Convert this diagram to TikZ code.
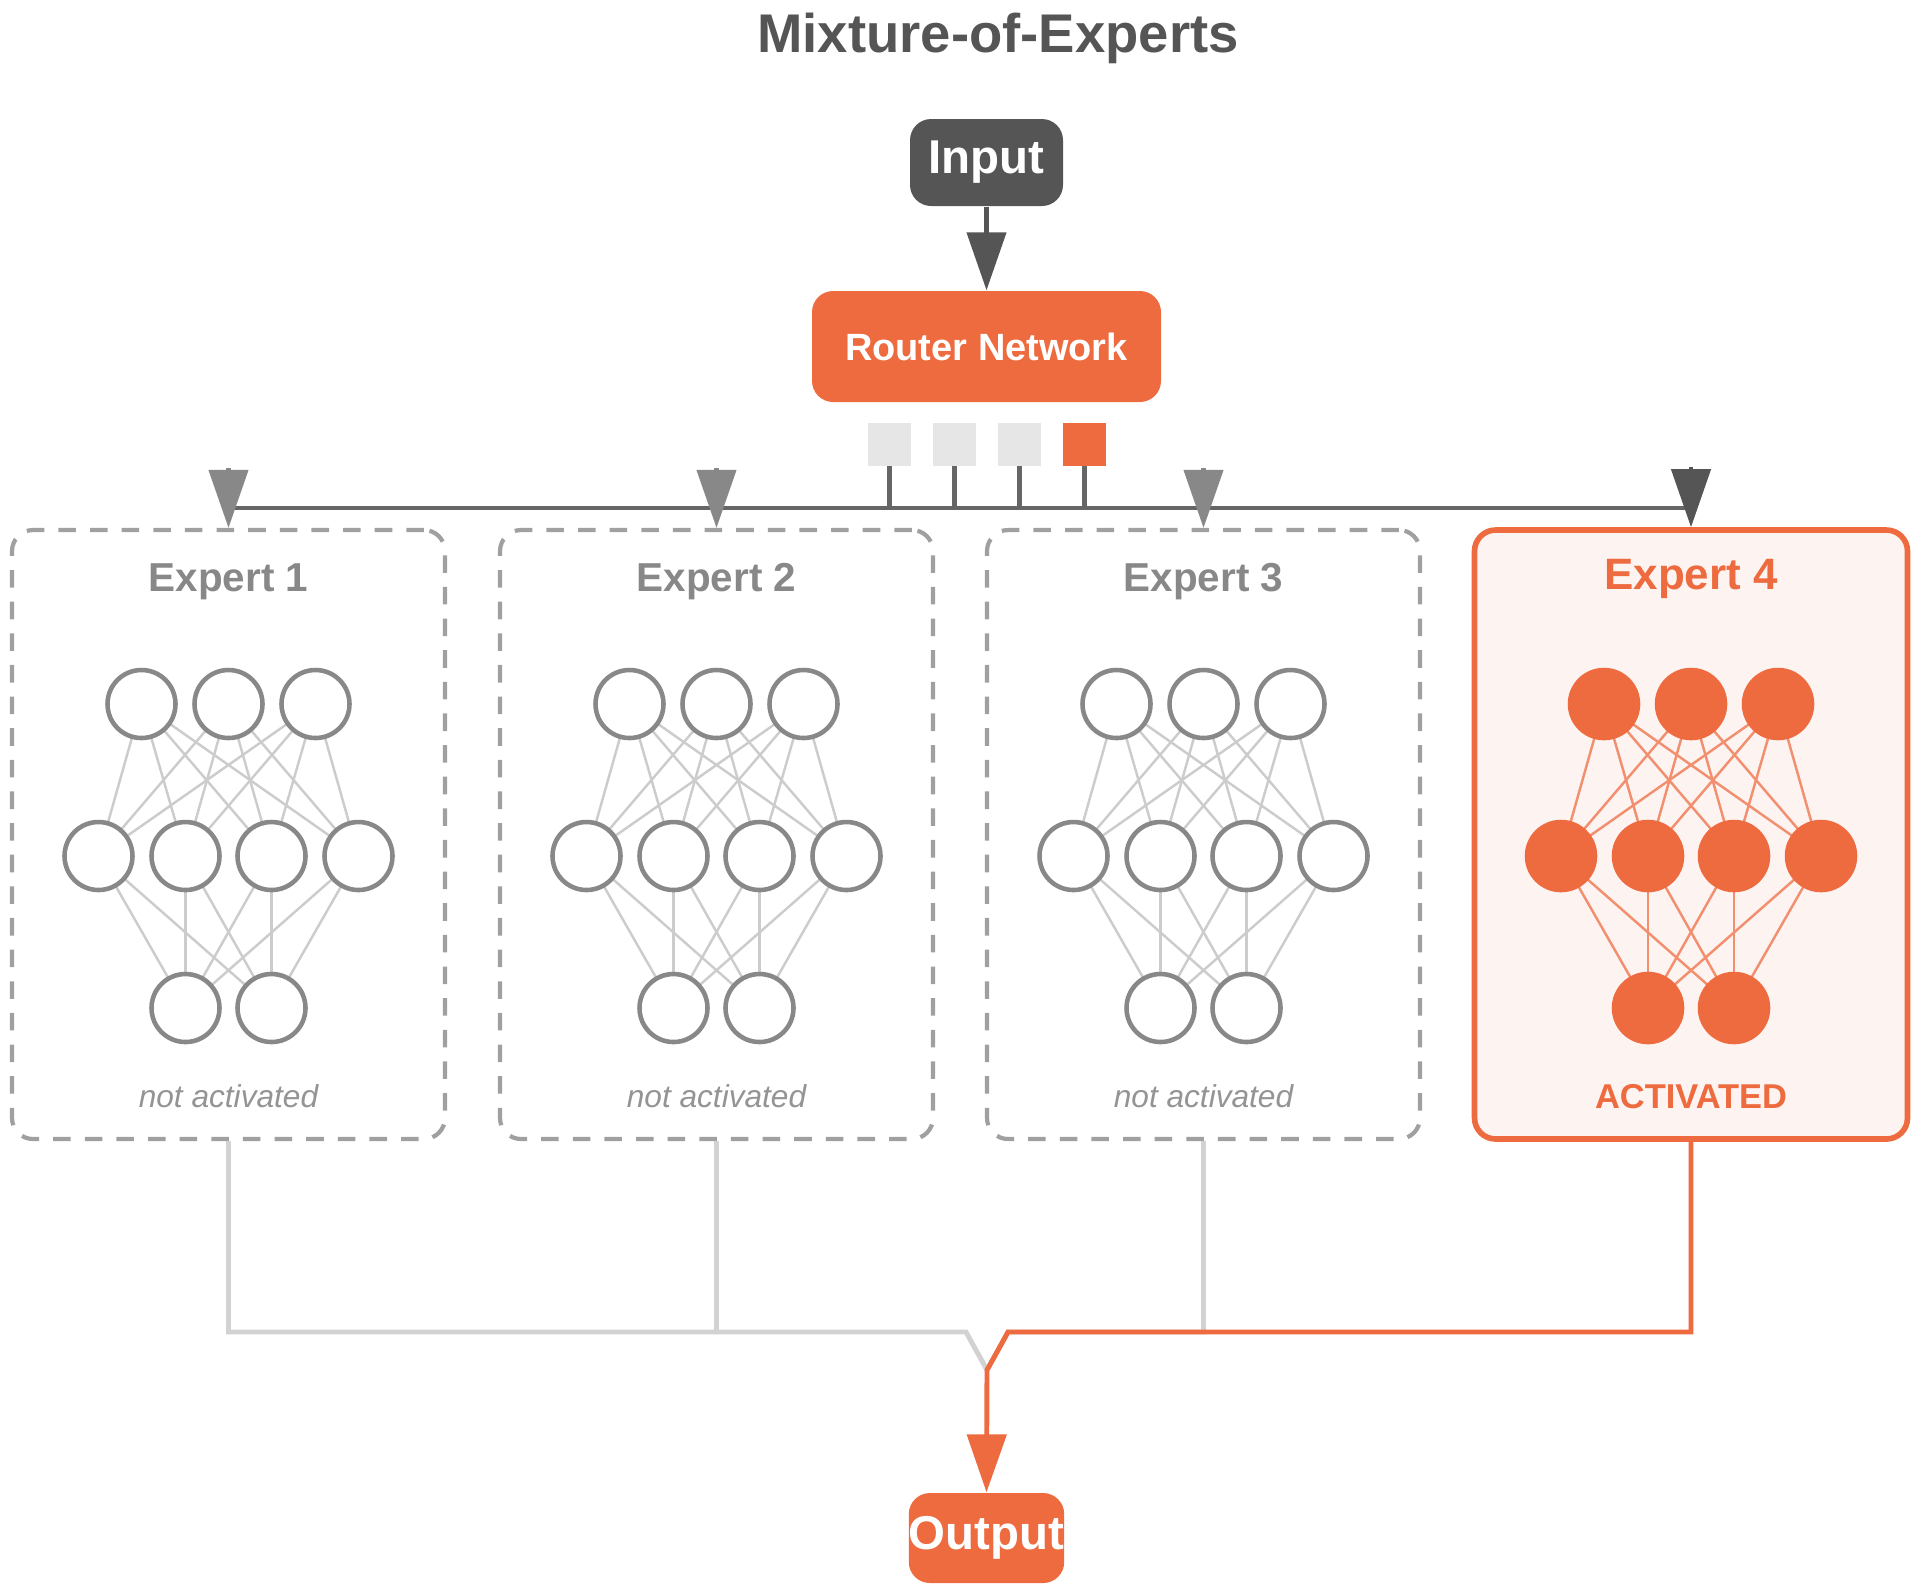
\documentclass[tikz,border=0pt]{standalone}
\usepackage{fontspec}
\setmainfont{Liberation Sans}
\usetikzlibrary{arrows.meta,calc}
\definecolor{moeorange}{HTML}{EE6A3F}
\definecolor{moedark}{HTML}{555555}
\definecolor{moegray}{HTML}{888888}
\definecolor{moelight}{HTML}{CCCCCC}
\definecolor{moeshade}{HTML}{E6E6E6}
\definecolor{moepale}{HTML}{FDF4F1}

\begin{document}
\begin{tikzpicture}
    [
    box/.style={rounded corners=6pt,inner sep=0pt,font=\bfseries,text=white},
    expert/.style={rounded corners=6pt,minimum width=4.33cm,minimum height=6.09cm,inner sep=0pt},
    idle/.style={expert,draw=moegray!80,dashed,line width=1.2pt,dash pattern=on 5pt off 4pt},
    busy/.style={expert,draw=moeorange,line width=1.6pt,fill=moepale},
    neuron/.style={circle,minimum size=0.68cm,inner sep=0pt,line width=1.3pt},
    tip/.style={-{Triangle[width=0.39cm,length=0.58cm]}},
    ]
    \useasboundingbox (0,0) rectangle (19.2,-15.95);

    \node (title) at (9.98,-0.38) {\fontsize{15.5}{18}\selectfont\bfseries\color{moedark}Mixture-of-Experts};
    \node (input) at (9.865,-1.625) [box,fill=moedark,minimum width=1.53cm,minimum height=0.87cm] {\fontsize{13.5}{16}\selectfont Input};
    \node (router) at (9.865,-3.465) [box,fill=moeorange,minimum width=3.49cm,minimum height=1.11cm] {\fontsize{10.8}{13}\selectfont Router Network};
    \draw [tip,moedark,line width=1.2pt] (input) to (router);

    % gate scores
    \foreach \i/\x/\c in {1/8.895/moeshade,2/9.545/moeshade,3/10.195/moeshade,4/10.845/moeorange}
      \node (g\i) at (\x,-4.44) [fill=\c,minimum size=0.43cm,inner sep=0pt] {};
    \coordinate (busl) at (2.29,-5.08);
    \coordinate (busr) at (16.91,-5.08);
    \draw [moedark!90,line width=1.3pt] (busl) to (busr);
    \foreach \i in {1,...,4}
      \draw [moedark!90,line width=1.3pt] (g\i.south) to (g\i.south |- busl);

    % experts
    \foreach \k/\x in {1/2.285,2/7.165,3/12.035,4/16.91} {
      \ifnum\k<4
        \node (e\k) at (\x,-8.345) [idle] {};
        \def\ncol{moegray}\def\lcol{moelight}\def\nfill{white}
      \else
        \node (e\k) at (\x,-8.345) [busy] {};
        \def\ncol{moeorange}\def\lcol{moeorange!75}\def\nfill{moeorange}
      \fi
      \foreach \j/\dx in {1/-0.87,2/0,3/0.87}
        \coordinate (t\k\j) at (\x+\dx,-7.04);
      \foreach \j/\dx in {1/-1.30,2/-0.43,3/0.43,4/1.30}
        \coordinate (m\k\j) at (\x+\dx,-8.56);
      \foreach \j/\dx in {1/-0.43,2/0.43}
        \coordinate (b\k\j) at (\x+\dx,-10.08);
      \foreach \a in {1,2,3}
        \foreach \b in {1,...,4}
          \draw [\lcol,line width=0.7pt] (t\k\a) to (m\k\b);
      \foreach \a in {1,...,4}
        \foreach \b in {1,2}
          \draw [\lcol,line width=0.7pt] (m\k\a) to (b\k\b);
      \foreach \c in {t\k1,t\k2,t\k3,m\k1,m\k2,m\k3,m\k4,b\k1,b\k2}
        \node (n\c) at (\c) [neuron,draw=\ncol,fill=\nfill] {};
    }
    \foreach \k in {1,2,3} {
      \node (h\k) at ($(e\k.north)+(0,-0.54)$) {\fontsize{11.5}{14}\selectfont\bfseries\color{moegray}Expert \k};
      \node (s\k) at ($(e\k.south)+(0,0.45)$) {\fontsize{9}{11}\selectfont\itshape\color{moegray!90}not activated};
      \draw [tip,moegray,line width=1.2pt] ($(e\k.north)+(0,0.6)$) to (e\k.north);
    }
    \node (h4) at ($(e4.north)+(0,-0.52)$) {\fontsize{12.5}{15}\selectfont\bfseries\color{moeorange}Expert 4};
    \node (s4) at ($(e4.south)+(0,0.45)$) {\fontsize{9.8}{12}\selectfont\bfseries\color{moeorange}ACTIVATED};
    \draw [tip,moedark,line width=1.2pt] ($(e4.north)+(0,0.6)$) to (e4.north);

    % combine
    \node (output) at (9.865,-15.38) [box,fill=moeorange,minimum width=1.53cm,minimum height=0.9cm] {\fontsize{13.5}{16}\selectfont Output};
    \coordinate (join) at (9.87,-13.70);
    \draw [moeshade!80!gray,line width=1.4pt] (e1.south) |- (9.66,-13.32) -- (join);
    \draw [moeshade!80!gray,line width=1.4pt] (e2.south) |- (9.66,-13.32);
    \draw [moeshade!80!gray,line width=1.4pt] (e3.south) |- (10.08,-13.32) -- (join);
    \draw [tip,moeorange,line width=1.4pt] (e4.south) |- (10.08,-13.32) -- (join) -- (output.north);
\end{tikzpicture}
\end{document}
